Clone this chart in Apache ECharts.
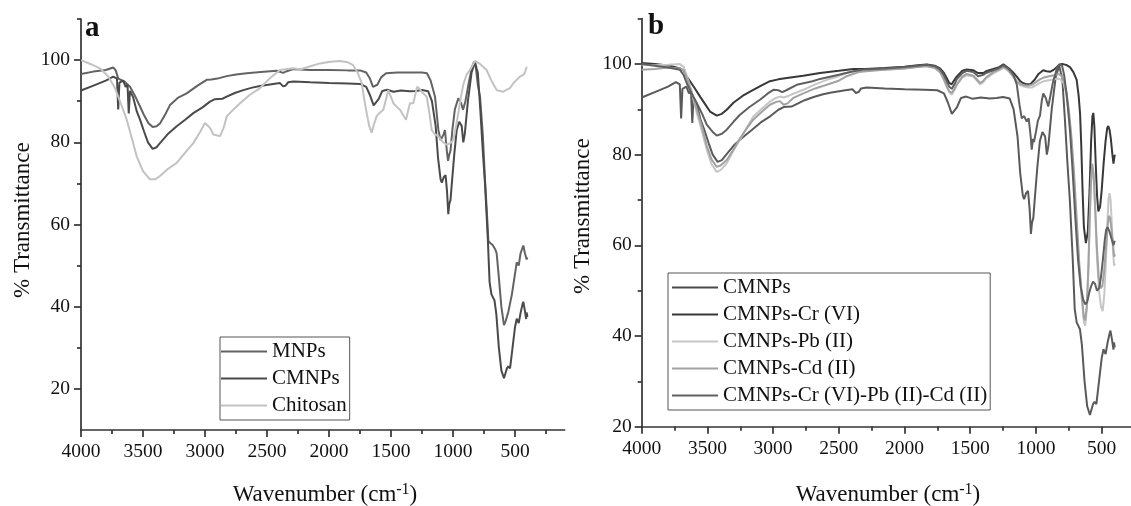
<!DOCTYPE html>
<html><head><meta charset="utf-8">
<script src="https://cdn.jsdelivr.net/npm/echarts@6/dist/echarts.min.js"></script>
<style>html,body{margin:0;padding:0;background:#fff}#c{width:1131px;height:506px}</style>
</head><body><div id="c"></div>
<script>
// ---- tick / label values ----
const xMajor = [4000,3500,3000,2500,2000,1500,1000,500];
const xMinor = [3750,3250,2750,2250,1750,1250,750,250];
const yMajor = [20,40,60,80,100];
const yMinor = [10,30,50,70,90,110];

// ---- panel a: [wavenumber, %T] ----
const mnps = [[4000,96.6],[3900,97.2],[3800,97.6],[3740,98.2],[3720,97.5],[3700,95.5],[3685,95.2],[3650,94.8],[3605,93.5],[3560,91],[3524,88.7],[3490,86.5],[3457,84.7],[3422,83.7],[3390,83.9],[3363,84.6],[3320,86.8],[3282,89.1],[3220,90.8],[3148,91.9],[3060,93.8],[2987,95.2],[2950,95.3],[2900,95.5],[2825,96.1],[2750,96.5],[2664,96.8],[2550,97.1],[2422,97.4],[2370,96.9],[2340,97.3],[2288,97.8],[2150,97.6],[2000,97.6],[1850,97.5],[1750,97.5],[1700,97],[1670,95.5],[1645,93.5],[1630,93.2],[1610,94],[1580,95.8],[1540,96.8],[1450,97],[1350,97],[1250,97],[1210,96.8],[1180,95],[1145,91.1],[1118,83],[1100,80.5],[1091,80.3],[1075,82],[1065,83],[1050,78],[1040,75.5],[1030,77],[1020,78],[1005,83],[985,88],[957,90.7],[935,89.5],[919,87.9],[900,90],[870,95],[845,98.5],[830,99.6],[815,98],[800,94],[782,91.1],[760,82],[742,71],[725,62],[715,56],[700,55.5],[680,55],[660,54],[648,53],[630,47],[610,40],[589,35.5],[575,36.5],[554,38.7],[540,38.5],[525,43],[500,48],[486,50.8],[470,50],[455,53],[433,54.9],[420,53],[406,51.5],[400,52]];
const cmnps = [[4000,92.6],[3900,93.8],[3800,95],[3740,96],[3710,95.5],[3700,88],[3690,94.5],[3660,95],[3640,93.5],[3625,94],[3615,87],[3605,92.5],[3580,91],[3550,87.5],[3524,85.5],[3490,82.5],[3460,80],[3422,78.4],[3390,78.8],[3363,79.8],[3300,82],[3228,83.9],[3160,85.5],[3094,87.1],[3020,88.5],[2960,89.9],[2920,90.5],[2906,90.2],[2860,90.6],[2825,91.1],[2760,92],[2691,92.7],[2620,93.3],[2556,93.7],[2450,94.2],[2395,94.4],[2370,93.6],[2350,93.8],[2330,94.6],[2288,94.8],[2150,94.6],[2000,94.4],[1850,94.3],[1750,94.2],[1700,93.5],[1670,91.5],[1640,89],[1625,88.7],[1600,90.5],[1570,92.5],[1530,92.8],[1480,92.3],[1420,92.6],[1350,92.4],[1300,92.5],[1250,92.7],[1200,92.4],[1170,90],[1140,84],[1120,76],[1100,71],[1090,70.2],[1075,71.5],[1060,72],[1048,68],[1038,62.5],[1030,65],[1020,66],[1011,69.4],[990,77],[970,83],[950,85],[930,84],[917,80],[905,82],[880,90],[850,97],[823,99.6],[810,98],[800,97],[780,88],[760,78],[742,70],[720,57],[705,46],[690,43],[665,41.5],[650,38],[630,30],[610,24.5],[589,22.6],[575,24],[565,25],[554,25.5],[540,25],[520,30],[500,35],[486,37.1],[470,36],[455,38.5],[440,40.5],[433,41.2],[420,39],[410,37],[406,38.6],[400,37.5]];
const chitosan = [[4000,100],[3920,99],[3847,98],[3780,96],[3726,93.2],[3680,89.5],[3631,85.5],[3590,81],[3551,76.6],[3500,73],[3444,71],[3400,71],[3363,71.8],[3300,73.5],[3228,75],[3160,77.5],[3094,79.8],[3040,82.5],[3000,84.7],[2960,83.5],[2933,81.9],[2879,81.5],[2850,83.5],[2825,86.3],[2770,88],[2718,89.5],[2640,91.5],[2556,93.2],[2480,95.5],[2395,97.6],[2288,98],[2234,97.7],[2150,98.5],[2073,99.2],[1990,99.6],[1911,99.8],[1850,99.5],[1806,98.8],[1770,97],[1736,94.4],[1716,90.5],[1696,87.1],[1676,84],[1656,82.3],[1636,84.5],[1616,86.3],[1590,87.2],[1562,87.9],[1540,90.5],[1522,92.7],[1500,91],[1481,89.5],[1450,88.5],[1427,87.9],[1400,86.5],[1379,85.5],[1360,88],[1347,89.5],[1320,89.5],[1306,89.9],[1290,93.5],[1270,93],[1253,92.3],[1212,91.1],[1190,87],[1172,83],[1145,81.9],[1120,81.5],[1105,81.1],[1080,80],[1051,79.4],[1020,79.8],[997,80.6],[975,84],[957,87.1],[937,91],[917,94],[890,96.5],[863,97.6],[823,99.8],[780,99],[729,97.6],[690,95],[648,92.7],[620,92.5],[594,92.3],[567,92.8],[540,93.2],[510,94.5],[486,95.2],[460,96],[433,96.4],[420,97],[406,98.4]];

// ---- panel b ----
const cmnpsCr = [[4000,100.2],[3900,100],[3785,99.6],[3709,99],[3680,98.5],[3658,97.3],[3600,94.8],[3556,92.8],[3510,90.8],[3480,89.5],[3429,88.6],[3390,89],[3353,89.9],[3300,91.5],[3230,93],[3151,94.3],[3080,95.4],[3024,96.2],[2960,96.6],[2896,96.9],[2770,97.4],[2643,98],[2500,98.5],[2390,98.9],[2300,98.9],[2150,99.1],[2000,99.4],[1900,99.7],[1831,99.9],[1770,99.6],[1730,99],[1700,98],[1679,96.9],[1660,95.8],[1641,95.5],[1620,96.5],[1603,97.2],[1560,98.5],[1527,98.8],[1476,98.6],[1440,98],[1425,97.6],[1400,98],[1380,98.4],[1324,98.9],[1280,99.3],[1248,99.9],[1220,99.3],[1197,98.8],[1170,98],[1146,97.2],[1120,96.2],[1100,95.8],[1070,95.5],[1040,95.6],[1010,96.5],[980,97.8],[945,98.6],[920,98.4],[890,98.3],[860,98.8],[830,99.6],[800,100],[770,99.8],[741,99.3],[715,98.2],[690,96.5],[675,93],[664,89],[655,82],[645,72],[635,64],[620,60.5],[605,63],[592,72],[580,83],[570,88.5],[563,89.2],[555,86],[545,78],[535,71],[525,67.5],[512,68.5],[500,72],[485,78],[470,83],[458,85.8],[449,86.3],[440,85.5],[430,83.5],[418,80],[410,78],[405,77.8],[400,80]];
const cmnpsPb = [[4000,99.8],[3900,99.7],[3800,99.8],[3709,100],[3680,99.3],[3658,97.5],[3620,94],[3581,89.2],[3540,85],[3505,81.1],[3470,78],[3429,76.2],[3400,76.6],[3353,78.1],[3300,81],[3252,83.3],[3200,86],[3151,88.4],[3080,90.3],[3024,91.7],[2980,92.5],[2948,92.8],[2920,92.6],[2880,93],[2770,94.3],[2680,95.5],[2592,96.5],[2500,97.3],[2440,98],[2350,98.5],[2250,98.6],[2150,98.8],[2000,99],[1900,99.4],[1831,99.6],[1770,99.3],[1730,98.4],[1700,96.8],[1679,95.2],[1660,93.8],[1641,93.2],[1620,94.2],[1603,95.3],[1560,97],[1527,97.5],[1476,97.2],[1440,96],[1425,95.5],[1400,96],[1380,96.8],[1324,97.9],[1280,98.6],[1248,99.2],[1220,98.7],[1197,98],[1170,97],[1146,96],[1120,95.3],[1090,95],[1060,94.8],[1030,94.8],[1000,95.3],[970,95.8],[940,96.2],[900,96.4],[860,96.6],[830,96.8],[810,96.5],[790,95.8],[770,93.5],[750,89],[730,83],[710,74],[690,64],[670,55],[650,48],[635,43],[625,42.3],[612,46],[600,55],[590,66],[580,74],[570,77],[560,75],[548,67],[535,57],[520,50],[505,46.5],[492,45.5],[480,49],[468,56],[458,64],[448,70],[440,71.5],[432,70],[423,65],[413,58.5],[405,55.5],[400,56]];
const cmnpsCd = [[4000,98.7],[3900,98.9],[3800,99.2],[3709,99],[3680,98.6],[3658,97],[3620,93.8],[3581,90],[3540,86],[3505,82],[3470,79],[3429,77.3],[3400,77.6],[3353,78.8],[3300,81.2],[3252,83.6],[3200,85.8],[3151,87.7],[3080,89.6],[3024,91],[2980,91.6],[2948,91.8],[2920,91],[2890,91.3],[2846,92.5],[2770,93.5],[2680,94.6],[2592,95.4],[2500,96.3],[2440,97.3],[2350,98.2],[2250,98.5],[2150,98.7],[2000,99],[1900,99.3],[1831,99.5],[1770,99.1],[1730,98.2],[1700,96.5],[1679,95],[1660,94],[1641,93.6],[1620,94.5],[1603,95.5],[1560,97.2],[1527,97.8],[1476,97.4],[1440,96.3],[1425,95.8],[1400,96.3],[1380,97],[1324,98.2],[1280,98.8],[1248,99.4],[1220,98.9],[1197,98.2],[1170,97.2],[1146,96.2],[1120,95.6],[1090,95.3],[1060,95.2],[1030,95.4],[1000,96],[970,96.6],[940,97],[900,97.3],[860,97.5],[830,97.8],[810,97.5],[790,96.5],[770,94],[750,90],[730,84],[710,76],[690,66],[670,56],[650,48.5],[635,44],[625,43.5],[612,47],[600,56],[590,67],[580,75],[572,78],[562,76],[550,69],[537,60],[522,53],[508,50.5],[495,51],[482,54],[468,59],[455,64],[446,66.5],[436,66],[425,63.5],[413,60],[405,57.5],[400,58]];
const cmnpsAll = [[4000,100],[3900,99.6],[3800,99.2],[3709,98.7],[3680,97.5],[3658,95.8],[3620,93.5],[3581,91.4],[3540,89],[3505,86.6],[3460,85],[3429,84.2],[3390,84.6],[3353,85.5],[3300,87.3],[3252,88.8],[3180,90.5],[3100,92.1],[3040,93.5],[2998,94.3],[2960,94.2],[2930,93.8],[2900,94.2],[2820,95.4],[2700,96.2],[2643,96.7],[2500,97.6],[2390,98.4],[2300,98.8],[2150,99],[2000,99.3],[1900,99.6],[1831,99.8],[1770,99.5],[1730,98.8],[1700,97.5],[1679,96.2],[1660,95],[1641,94.5],[1620,95.5],[1603,96.6],[1560,98],[1527,98.5],[1476,98.2],[1440,97.3],[1425,97],[1400,97.6],[1380,98],[1324,98.6],[1280,99.1],[1248,99.7],[1220,99.2],[1197,98.6],[1170,97.5],[1146,95.5],[1125,91],[1108,88],[1090,88.5],[1070,87.3],[1055,88],[1040,84],[1032,81.1],[1022,83.5],[1015,82.8],[1000,85],[985,87.5],[969,88.6],[955,92],[944,93.5],[925,92.5],[906,90.6],[890,93],[870,96],[855,97.5],[835,99.5],[817,100],[800,99.5],[785,97.5],[765,93],[740,85],[720,76],[700,66],[680,57],[660,51],[640,48],[625,47],[610,47.5],[595,49.5],[580,51],[565,52],[550,51.5],[535,50],[520,50.5],[505,53],[490,57],[475,61.5],[465,63.5],[455,64],[440,63],[425,61.5],[410,60],[400,61]];

const namesA = ['MNPs','CMNPs','Chitosan'];
const namesB = ['CMNPs','CMNPs-Cr (VI)','CMNPs-Pb (II)','CMNPs-Cd (II)','CMNPs-Cr (VI)-Pb (II)-Cd (II)'];
const colorsA = ['#636363','#4a4a4a','#c2c2c2'];
const colorsB = ['#5a5a5a','#383838','#c6c6c6','#a2a2a2','#606060'];

const FONT = '"Liberation Serif", "DejaVu Serif", serif';
const AX = '#333';
const fmt = v => String(Math.round(v));

function xAxes(g){
  return [
    {type:'value',gridIndex:g,position:'bottom',inverse:true,min:100,max:4000,
     axisLine:{show:true,lineStyle:{color:AX,width:1.7}},
     axisTick:{show:true,inside:false,length:7,customValues:xMajor,lineStyle:{color:AX,width:1.7}},
     axisLabel:{show:true,customValues:xMajor,formatter:fmt,margin:12,fontFamily:FONT,fontSize:19.5,color:'#111'},
     splitLine:{show:false}},
    {type:'value',gridIndex:g,position:'bottom',inverse:true,min:100,max:4000,
     axisLine:{show:false},
     axisTick:{show:true,inside:false,length:4,customValues:xMinor,lineStyle:{color:AX,width:1.7}},
     axisLabel:{show:false},splitLine:{show:false}}
  ];
}
function yAxes(g,min,margin){
  const minors = yMinor.filter(v=>v>min);
  return [
    {type:'value',gridIndex:g,position:'left',min:min,max:110,
     axisLine:{show:true,lineStyle:{color:AX,width:1.7}},
     axisTick:{show:true,inside:false,length:7,customValues:yMajor,lineStyle:{color:AX,width:1.7}},
     axisLabel:{show:true,customValues:yMajor,formatter:fmt,margin:margin,fontFamily:FONT,fontSize:19.5,color:'#111'},
     splitLine:{show:false}},
    {type:'value',gridIndex:g,position:'left',min:min,max:110,
     axisLine:{show:false},
     axisTick:{show:true,inside:false,length:4,customValues:minors,lineStyle:{color:AX,width:1.7}},
     axisLabel:{show:false},splitLine:{show:false}}
  ];
}
function line(name,data,color,xi,yi){
  return {type:'line',name:name,data:data,xAxisIndex:xi,yAxisIndex:yi,showSymbol:false,symbol:'none',
    lineStyle:{color:color,width:2},itemStyle:{color:color},clip:true,animation:false};
}

const seriesA = [mnps,cmnps,chitosan].map((d,i)=>line(namesA[i],d,colorsA[i],0,0));
const seriesB = [cmnps,cmnpsCr,cmnpsPb,cmnpsCd,cmnpsAll].map((d,i)=>line(namesB[i],d,colorsB[i],2,2));

function legend(names,left,top,padL){
  return {show:true,orient:'vertical',left:left,top:top,data:names,icon:'rect',itemWidth:46,itemHeight:2,
    itemGap:6,padding:[4,3,4,padL],borderColor:'#555',borderWidth:1,backgroundColor:'#fff',selectedMode:false,
    textStyle:{fontFamily:FONT,fontSize:21,color:'#111',lineHeight:20}};
}

const titleFont = '23px '+FONT;
const chart = echarts.init(document.getElementById('c'),null,{renderer:'canvas'});
chart.setOption({
  animation:false,
  backgroundColor:'#fff',
  grid:[
    {left:81,top:19,width:483.6,height:411,containLabel:false,outerBoundsMode:'none'},
    {left:641.7,top:18.6,width:512.5,height:408.1,containLabel:false,outerBoundsMode:'none'}
  ],
  xAxis:[...xAxes(0),...xAxes(1)],
  yAxis:[...yAxes(0,10,11),...yAxes(1,20,10)],
  legend:[legend(namesA,220,337,1),legend(namesB,668,273,4)],
  series:[...seriesA,...seriesB],
  graphic:[
    {type:'text',x:85,y:14,style:{text:'a',font:'bold 29px '+FONT,fill:'#111'}},
    {type:'text',x:648,y:12,style:{text:'b',font:'bold 29px '+FONT,fill:'#111'}},
    {type:'text',x:11,y:298,rotation:Math.PI/2,style:{text:'% Transmittance',font:titleFont,fill:'#111'}},
    {type:'text',x:571,y:294,rotation:Math.PI/2,style:{text:'% Transmittance',font:titleFont,fill:'#111'}},
    {type:'text',x:325,y:495,style:{text:'{a|Wavenumber (cm}{s|-1}{a|)}',align:'center',verticalAlign:'middle',
      rich:{a:{font:titleFont,fill:'#111',lineHeight:28},s:{font:'16px '+FONT,fill:'#111',padding:[0,0,11,0]}}}},
    {type:'text',x:888,y:495,style:{text:'{a|Wavenumber (cm}{s|-1}{a|)}',align:'center',verticalAlign:'middle',
      rich:{a:{font:titleFont,fill:'#111',lineHeight:28},s:{font:'16px '+FONT,fill:'#111',padding:[0,0,11,0]}}}}
  ]
});
</script>
</body></html>
